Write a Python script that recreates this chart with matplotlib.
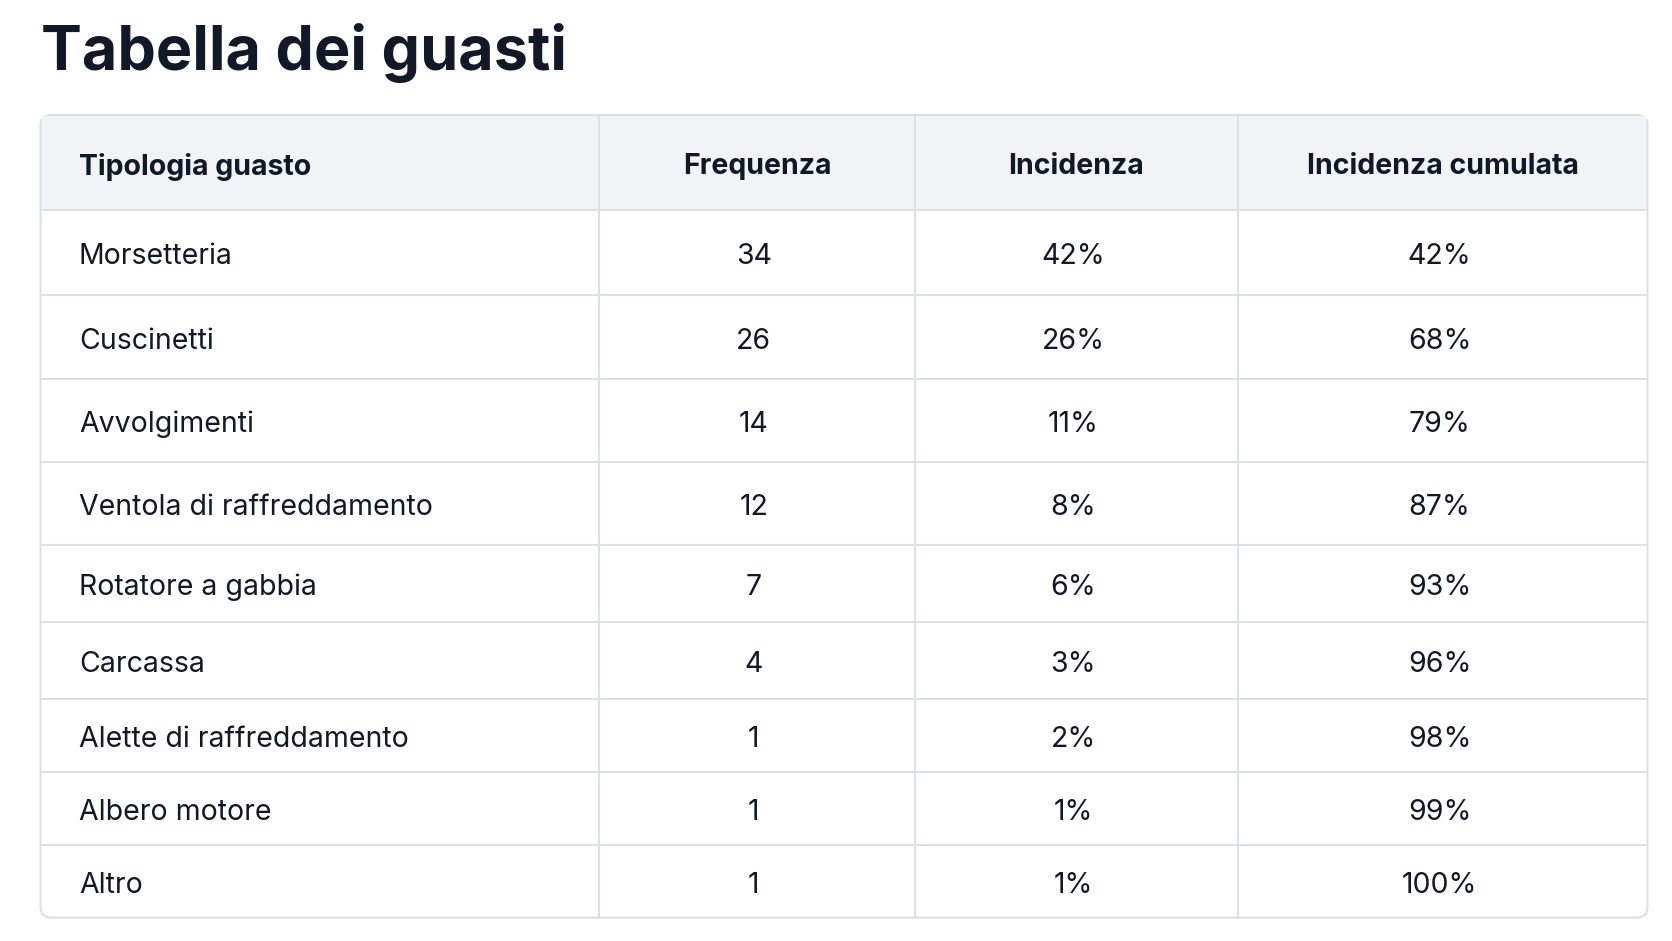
import matplotlib
matplotlib.use("Agg")
import matplotlib.pyplot as plt
from matplotlib.patches import FancyBboxPatch, Rectangle

title = "Tabella dei guasti"
headers = ["Tipologia guasto", "Frequenza", "Incidenza", "Incidenza cumulata"]
categories = ["Morsetteria", "Cuscinetti", "Avvolgimenti", "Ventola di raffreddamento",
              "Rotatore a gabbia", "Carcassa", "Alette di raffreddamento", "Albero motore", "Altro"]
frequenza = [34, 26, 14, 12, 7, 4, 1, 1, 1]
incidenza = [42, 26, 11, 8, 6, 3, 2, 1, 1]
cumulata = [42, 68, 79, 87, 93, 96, 98, 99, 100]

W, H = 1568, 884
fig = plt.figure(figsize=(16.72, 9.41), dpi=100)
ax = fig.add_axes([0, 0, 1, 1])
ax.set_xlim(0, W); ax.set_ylim(H, 0); ax.axis("off")
plt.rcParams['font.family'] = ['Inter', 'DejaVu Sans']
dark = "#111827"
line = "#dcdfe4"

ax.text(38, 50, title, fontsize=44, fontweight="bold", color=dark, va="center", ha="left")

L, R, T, B = 38, 1545, 108, 862
hdr_b = 197
rows_y = [hdr_b, 277, 356, 434, 512, 584, 657, 725, 794, B]
cols = [L, 562, 858, 1161, R]

ax.add_patch(FancyBboxPatch((L, T), R - L, B - T, boxstyle="round,pad=0,rounding_size=10",
                            fc="white", ec=line, lw=1.5, zorder=1))
ax.add_patch(Rectangle((L + 1, T + 1), R - L - 2, hdr_b - T - 1, fc="#f1f3f7", ec="none", zorder=1.5))
for y in rows_y[:-1]:
    ax.plot([L, R], [y, y], color=line, lw=1.5, zorder=2)
for x in cols[1:-1]:
    ax.plot([x, x], [T, B], color=line, lw=1.5, zorder=2)

fs = 20.5
dy = 4
hy = (T + hdr_b) / 2 + dy
ax.text(74, hy, headers[0], fontsize=fs, fontweight="bold", color=dark, va="center", ha="left", zorder=3)
for i in range(1, 4):
    ax.text((cols[i] + cols[i + 1]) / 2, hy, headers[i], fontsize=fs, fontweight="bold",
            color=dark, va="center", ha="center", zorder=3)

for r, cat in enumerate(categories):
    y = (rows_y[r] + rows_y[r + 1]) / 2 + dy
    ax.text(74, y, cat, fontsize=fs, color=dark, va="center", ha="left", zorder=3)
    vals = [str(frequenza[r]), f"{incidenza[r]}%", f"{cumulata[r]}%"]
    for i, v in enumerate(vals):
        ax.text((cols[i + 1] + cols[i + 2]) / 2 - 3, y, v, fontsize=fs, color=dark,
                va="center", ha="center", zorder=3)

fig.savefig("out.png", dpi=100, facecolor="white")
